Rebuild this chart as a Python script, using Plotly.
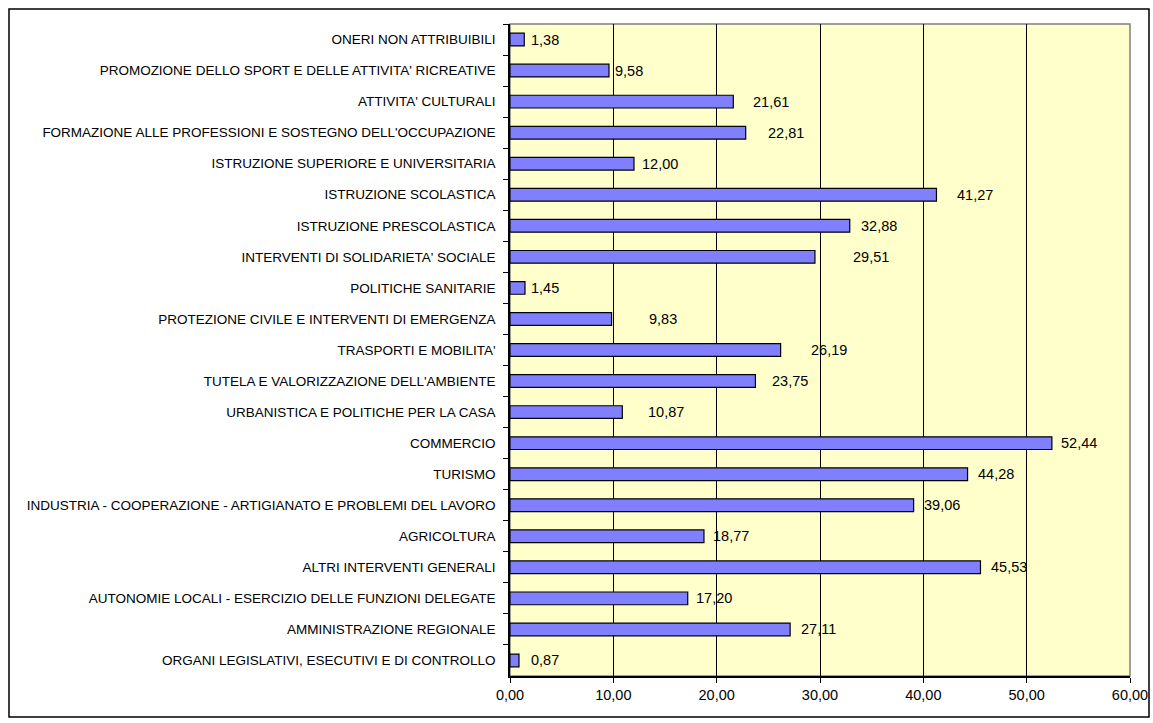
import plotly.graph_objects as go

categories = [
    "ONERI NON ATTRIBUIBILI",
    "PROMOZIONE DELLO SPORT E DELLE ATTIVITA' RICREATIVE",
    "ATTIVITA' CULTURALI",
    "FORMAZIONE ALLE PROFESSIONI E SOSTEGNO DELL'OCCUPAZIONE",
    "ISTRUZIONE SUPERIORE E UNIVERSITARIA",
    "ISTRUZIONE SCOLASTICA",
    "ISTRUZIONE PRESCOLASTICA",
    "INTERVENTI DI SOLIDARIETA' SOCIALE",
    "POLITICHE SANITARIE",
    "PROTEZIONE CIVILE E INTERVENTI DI EMERGENZA",
    "TRASPORTI E MOBILITA'",
    "TUTELA E VALORIZZAZIONE DELL'AMBIENTE",
    "URBANISTICA E POLITICHE PER LA CASA",
    "COMMERCIO",
    "TURISMO",
    "INDUSTRIA - COOPERAZIONE - ARTIGIANATO E PROBLEMI DEL LAVORO",
    "AGRICOLTURA",
    "ALTRI INTERVENTI GENERALI",
    "AUTONOMIE LOCALI - ESERCIZIO DELLE FUNZIONI DELEGATE",
    "AMMINISTRAZIONE REGIONALE",
    "ORGANI LEGISLATIVI, ESECUTIVI E DI CONTROLLO",
]

values = [1.38, 9.58, 21.61, 22.81, 12.00, 41.27, 32.88, 29.51, 1.45, 9.83,
          26.19, 23.75, 10.87, 52.44, 44.28, 39.06, 18.77, 45.53, 17.20, 27.11, 0.87]

x_ticks = [0, 10, 20, 30, 40, 50, 60]

# pixel gaps between bar end and its data label (label placement in the original)
label_gap = [5, 4, 18, 20, 6, 19, 9, 36, 4, 35, 28, 15, 24, 7, 8, 8, 7, 9, 6, 9, 10]

FONT = "Liberation Sans, Arial, sans-serif"

fig = go.Figure()
fig.add_trace(go.Bar(
    x=values, y=categories, orientation="h",
    marker=dict(color="#8080FF", line=dict(color="#000000", width=1.2)),
    width=0.41, hoverinfo="x+y", showlegend=False,
))

for cat, v, g in zip(categories, values, label_gap):
    fig.add_annotation(
        x=v, y=cat, xref="x", yref="y", text=f"{v:.2f}".replace(".", ","),
        showarrow=False, xanchor="left", yanchor="middle", xshift=g,
        font=dict(family=FONT, size=14.5, color="#000000"),
    )

W, H = 1153, 723
L, R, T, B = 510, 23, 24, 47
pw, ph = W - L - R, H - T - B

def px_x(p):
    return (p - L) / pw

def px_y(p):
    return (H - B - p) / ph

# outer chart frame
fig.add_shape(type="rect", xref="paper", yref="paper",
              x0=px_x(9), x1=px_x(1149), y0=px_y(717), y1=px_y(9),
              line=dict(color="#000000", width=1.5), layer="below")
# plot-area border (grey top/right)
fig.add_shape(type="rect", xref="paper", yref="paper", x0=0, x1=1, y0=0, y1=1,
              line=dict(color="#808080", width=1.5), layer="below")

fig.update_layout(
    width=W, height=H, autosize=False,
    margin=dict(l=L, r=R, t=T, b=B, pad=0, autoexpand=False),
    paper_bgcolor="#FFFFFF",
    plot_bgcolor="#FFFFCC",
    separators=",.",
    font=dict(family=FONT, size=12, color="#000000"),
    bargap=0.59,
)
fig.update_xaxes(
    range=[0, 60], tickvals=x_ticks, tickformat=".2f",
    showgrid=True, gridcolor="#000000", gridwidth=1,
    showline=True, linecolor="#000000", linewidth=1.5,
    ticks="outside", ticklen=5, tickcolor="#000000",
    tickfont=dict(family=FONT, size=14.5), zeroline=False, fixedrange=True,
    automargin=False,
)
fig.update_yaxes(
    type="category", autorange="reversed",
    showline=True, linecolor="#000000", linewidth=1.5,
    ticks="outside", tickson="boundaries", ticklen=5, tickcolor="#000000",
    tickfont=dict(family=FONT, size=13.5), showgrid=False, ticklabelstandoff=10,
    fixedrange=True, automargin=False,
)

fig.write_html(
    "out.html",
    config={"displayModeBar": False, "responsive": False},
    post_script="document.body.style.margin='0';document.body.style.overflow='hidden';",
)
